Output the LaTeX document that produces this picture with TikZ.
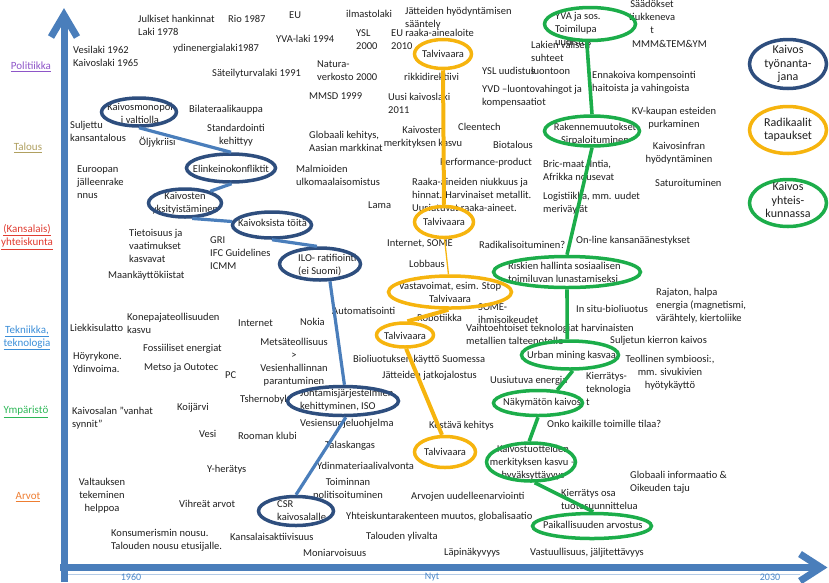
\documentclass[tikz,border=0pt]{standalone}
\usepackage{fontspec}
\setmainfont{Carlito}
\usetikzlibrary{shapes.geometric}

\definecolor{navy}{HTML}{2E4E7E}
\definecolor{linkblue}{HTML}{4A7EBB}
\definecolor{axisblue}{HTML}{4A7EBB}
\definecolor{axislight}{HTML}{B4CBE6}
\definecolor{radorange}{HTML}{F6B40E}
\definecolor{comgreen}{HTML}{1CAD4A}
\definecolor{polc}{HTML}{8E55C8}
\definecolor{talc}{HTML}{B0A060}
\definecolor{kanc}{HTML}{E03C31}
\definecolor{tekc}{HTML}{3B8ED8}
\definecolor{ympc}{HTML}{2DB757}
\definecolor{arvc}{HTML}{EE7D31}
\definecolor{yearc}{HTML}{4A86C8}

\begin{document}
\begin{tikzpicture}[x=1pt,y=-1pt,
  txt/.style={inner sep=0pt, anchor=west, align=left,
    font=\fontsize{10.5}{13}\selectfont, text=black!88},
  ctxt/.style={txt, anchor=center, align=center},
  legtxt/.style={ctxt, font=\fontsize{12}{13.5}\selectfont},
  cat/.style={inner sep=0pt, align=center, font=\fontsize{11}{13}\selectfont},
  yr/.style={inner sep=0pt, font=\fontsize{10}{12}\selectfont, text=yearc},
  ell/.style={ellipse, draw, line width=3.5, inner sep=0pt},
  navyell/.style={ell, draw=navy},
  orell/.style={ell, draw=radorange},
  grell/.style={ell, draw=comgreen},
  navylink/.style={draw=linkblue, line width=3.2},
  orlink/.style={draw=radorange, line width=4},
  orthin/.style={draw=radorange, line width=1.3},
  grlink/.style={draw=comgreen, line width=3.6},
  axisline/.style={draw=axisblue, line width=7},
]
\path[use as bounding box] (0,0) rectangle (829,582);

% ---------- axes ----------
\coordinate (vb) at (64,582);
\coordinate (vt) at (64,16);
\coordinate (vl) at (51,37);
\coordinate (vr) at (77,37);
\coordinate (hb) at (60,567.5);
\coordinate (ht) at (821,567.5);
\coordinate (hu) at (800,554);
\coordinate (hd) at (800,581);
\draw[draw=axislight, line width=1] (68,574) -- (800,574);
\draw[axisline] (vb) -- (vt);
\draw[axisline, line join=miter] (vl) -- (64,15) -- (vr);
\draw[axisline] (hb) -- (ht);
\draw[axisline, line join=miter] (hu) -- (ht) -- (hd);

\node[yr] (y1960) at (131,577) {1960};
\node[yr] (ynyt) at (432,577) {Nyt};
\node[yr] (y2030) at (770,577) {2030};

% ---------- category labels ----------
\node[cat, text=polc] (cPol) at (31,67) {\underline{Politiikka}};
\node[cat, text=talc] (cTal) at (28,148) {\underline{Talous}};
\node[cat, text=kanc] (cKan) at (27,237) {\underline{(Kansalais)}\\\underline{yhteiskunta}};
\node[cat, text=tekc] (cTek) at (27,338) {\underline{Tekniikka,}\\\underline{teknologia}};
\node[cat, text=ympc] (cYmp) at (26,412) {\underline{Ympäristö}};
\node[cat, text=arvc] (cArv) at (28,497) {\underline{Arvot}};

% ---------- free texts ----------
\node[txt] (n1) at (138,25.5) {Julkiset hankinnat\\Laki 1978};
\node[txt] (n2) at (228,19) {Rio 1987};
\node[txt] (n3) at (73,56.5) {Vesilaki 1962\\Kaivoslaki 1965};
\node[txt] (n4) at (173,49) {ydinenergialaki1987};
\node[txt] (n5) at (212,74) {Säteilyturvalaki 1991};
\node[txt] (n6) at (189,110) {Bilateraalikauppa};
\node[txt] (n7) at (70,131.5) {Suljettu\\kansantalous};
\node[txt] (n8) at (139,142) {Öljykriisi};
\node[ctxt] (n9) at (236,135.5) {Standardointi\\kehittyy};
\node[txt] (n10) at (77,182) {Euroopan\\jälleenrake\\nnus};
\node[txt] (n11) at (289,15) {EU};
\node[txt] (n12) at (346,14) {ilmastolaki};
\node[txt] (n13) at (405,18) {Jätteiden hyödyntämisen\\sääntely};
\node[txt] (n14) at (276,39) {YVA-laki 1994};
\node[txt] (n15) at (356,40) {YSL\\2000};
\node[txt] (n16) at (391,39) {EU raaka-ainealoite\\2010};
\node[txt] (n17) at (317,71) {Natura-\\verkosto 2000};
\node[txt] (n18) at (404,77) {rikkidirektiivi};
\node[txt] (n19) at (482,71) {YSL uudistus};
\node[txt] (n20) at (309,96) {MMSD 1999};
\node[txt] (n21) at (388,103) {Uusi kaivoslaki\\2011};
\node[txt] (n22) at (482,96.5) {YVD –luontovahingot ja\\kompensaatiot};
\node[txt] (n23) at (309,141) {Globaali kehitys,\\Aasian markkinat};
\node[ctxt] (n24) at (423,137.5) {Kaivosten\\merkityksen kasvu};
\node[txt] (n25) at (458,127) {Cleentech};
\node[txt] (n26) at (493,145) {Biotalous};
\node[txt] (n27) at (440,163) {Performance-product};
\node[txt] (n28) at (296,175) {Malmioiden\\ulkomaalaisomistus};
\node[txt] (n29) at (412,194.5) {Raaka-aineiden niukkuus ja\\hinnat. Harvinaiset metallit.\\Uusiutuvat raaka-aineet.};
\node[ctxt] (n30) at (652,17) {Säädökset\\tiukkeneva\\t};
\node[txt] (n31) at (632,44) {MMM\&TEM\&YM};
\node[txt] (n32) at (531,58) {Lakien välisen\\suhteet\\luontoon};
\node[txt] (n33) at (592,82) {Ennakoiva kompensointi\\haitoista ja vahingoista};
\node[ctxt] (n34) at (674,118) {KV-kaupan esteiden\\purkaminen};
\node[ctxt] (n35) at (679,153) {Kaivosinfran\\hyödyntäminen};
\node[txt] (n36) at (543,170) {Bric-maat, Intia,\\Afrikka nousevat};
\node[txt] (n37) at (655,183) {Saturoituminen};
\node[txt] (n38) at (543,203.5) {Logistiikka, mm. uudet\\meriväylät};
\node[txt] (n39) at (129,246) {Tietoisuus ja\\vaatimukset\\kasvavat};
\node[txt] (n40) at (210,253) {GRI\\IFC Guidelines\\ICMM};
\node[txt] (n41) at (108,276) {Maankäyttökiistat};
\node[txt] (n42) at (127,323.5) {Konepajateollisuuden\\kasvu};
\node[txt] (n43) at (70,328) {Liekkisulatto};
\node[txt] (n44) at (238,323) {Internet};
\node[txt] (n45) at (143,349) {Fossiiliset energiat};
\node[txt] (n46) at (73,362.5) {Höyrykone.\\Ydinvoima.};
\node[txt] (n47) at (144,368) {Metso ja Outotec};
\node[txt] (n48) at (225,375) {PC};
\node[txt] (n49) at (332,311) {Automatisointi};
\node[txt] (n50) at (300,322) {Nokia};
\node[ctxt] (n51) at (294,362) {Metsäteollisuus\\>\\Vesienhallinnan\\parantuminen};
\node[txt] (n52) at (240,400) {Tshernobyl};
\node[txt] (n53) at (177,408) {Koijärvi};
\node[txt] (n54) at (199,434) {Vesi};
\node[txt] (n55) at (238,436) {Rooman klubi};
\node[txt] (n56) at (300,424) {Vesiensuojeluohjelma};
\node[txt] (n57) at (325,446) {Talaskangas};
\node[txt] (n58) at (353,360) {Bioliuotuksen käyttö Suomessa};
\node[txt] (n59) at (382,376) {Jätteiden jatkojalostus};
\node[txt] (n60) at (368,205) {Lama};
\node[txt] (n61) at (387,244) {Internet, SOME};
\node[txt] (n62) at (409,264) {Lobbaus};
\node[txt] (n63) at (479,245) {Radikalisoituminen?};
\node[txt] (n64) at (417,318) {Robotiikka};
\node[txt] (n65) at (478,314) {SOME-\\ihmisoikeudet};
\node[txt] (n66) at (466,334) {Vaihtoehtoiset teknologiat harvinaisten\\metallien talteenotolle};
\node[txt] (n67) at (490,381) {Uusiutuva energia};
\node[txt] (n68) at (576,241) {On-line kansanäänestykset};
\node[txt] (n69) at (656,306) {Rajaton, halpa\\energia (magnetismi,\\värähtely, kiertoliike};
\node[txt] (n70) at (576,309) {In situ-bioliuotus};
\node[txt] (n71) at (610,341) {Suljetun kierron kaivos};
\node[ctxt] (n72) at (670,373) {Teollinen symbioosi:,\\mm. sivukivien\\hyötykäyttö};
\node[txt] (n73) at (586,389) {Kierrätys-\\teknologia\\t};
\node[txt] (n74) at (547,424) {Onko kaikille toimille tilaa?};
\node[txt] (n75) at (630,482) {Globaali informaatio \&\\Oikeuden taju};
\node[txt] (n76) at (561,499.5) {Kierrätys osa\\tuotesuunnittelua};
\node[txt] (n77) at (530,553) {Vastuullisuus, jäljitettävyys};
\node[txt] (n78) at (429,426) {Kestävä kehitys};
\node[txt] (n79) at (317,466) {Ydinmateriaalivalvonta};
\node[ctxt] (n80) at (348,489) {Toiminnan\\politisoituminen};
\node[txt] (n81) at (411,497) {Arvojen uudelleenarviointi};
\node[txt] (n82) at (346,517) {Yhteiskuntarakenteen muutos, globalisaatio};
\node[txt] (n83) at (230,537) {Kansalaisaktiivisuus};
\node[txt] (n84) at (366,537) {Talouden ylivalta};
\node[txt] (n85) at (303,553) {Moniarvoisuus};
\node[txt] (n86) at (444,553) {Läpinäkyvyys};
\node[txt] (n87) at (72,418.5) {Kaivosalan ”vanhat\\synnit”};
\node[txt] (n88) at (207,470) {Y-herätys};
\node[ctxt] (n89) at (102,496) {Valtauksen\\tekeminen\\helppoa};
\node[txt] (n90) at (179,504) {Vihreät arvot};
\node[txt] (n91) at (111,540) {Konsumerismin nousu.\\Talouden nousu etusijalle.};

% ---------- texts inside the ellipses ----------
\node[ctxt] (k1t) at (140,113) {Kaivosmonopol\\i valtiolla};
\node[ctxt] (k2t) at (231,169) {Elinkeinokonfliktit};
\node[ctxt] (k3t) at (185,203) {Kaivosten\\yksityistäminen};
\node[txt] (k4t) at (238,223) {Kaivoksista töitä};
\node[txt] (k5t) at (298,265) {ILO- ratifiointi\\(ei Suomi)};
\node[txt] (k6t) at (300,400) {Johtamisjärjestelmien\\kehittyminen, ISO};
\node[txt] (k7t) at (277,511) {CSR\\kaivosalalle};

\node[ctxt] (o1t) at (443,54) {Talvivaara};
\node[ctxt] (o2t) at (444,222) {Talvivaara};
\node[ctxt] (o3t) at (450,292.5) {Vastavoimat, esim. Stop\\Talvivaara};
\node[ctxt] (o4t) at (405,336) {Talvivaara};
\node[ctxt] (o5t) at (445,452) {Talvivaara};

\node[txt] (g1t) at (555,29) {YVA ja sos.\\Toimilupa\\uudistus};
\node[ctxt] (g2t) at (595,134) {Rakennemuutokset\\Sirpaloituminen};
\node[txt] (g3t) at (508,272) {Riskien hallinta sosiaalisen\\toimiluvan lunastamiseksi};
\node[txt] (g4t) at (527,356) {Urban mining kasvaa};
\node[txt] (g5t) at (503,403) {Näkymätön kaivos};
\node[ctxt] (g6t) at (533,463) {Kaivostuotteiden\\merkityksen kasvu –\\hyväksyttävyys};
\node[txt] (g7t) at (543,525) {Paikallisuuden arvostus};

% ---------- ellipses ----------
\node[navyell, minimum width=75, minimum height=28] (k1) at (139,112) {};
\node[navyell, minimum width=89, minimum height=28] (k2) at (231,168) {};
\node[navyell, minimum width=73, minimum height=28] (k3) at (185,203) {};
\node[navyell, minimum width=79, minimum height=26] (k4) at (272,225) {};
\node[navyell, minimum width=81, minimum height=32] (k5) at (320,264) {};
\node[navyell, minimum width=111, minimum height=29] (k6) at (343,401) {};
\node[navyell, minimum width=75, minimum height=29] (k7) at (296,511) {};

\node[orell, minimum width=57, minimum height=29] (o1) at (443,54) {};
\node[orell, minimum width=59, minimum height=31] (o2) at (444,222) {};
\node[orell, minimum width=123, minimum height=32] (o3) at (450,292) {};
\node[orell, minimum width=57, minimum height=24] (o4) at (405,335) {};
\node[orell, minimum width=61, minimum height=31] (o5) at (445,452) {};

\node[grell, minimum width=91, minimum height=33] (g1) at (590,24) {};
\node[grell, minimum width=95, minimum height=30] (g2) at (592,131) {};
\node[grell, minimum width=147, minimum height=31] (g3) at (567,272) {};
\node[grell, minimum width=97, minimum height=28] (g4) at (570,355) {};
\node[grell, minimum width=89, minimum height=25] (g5) at (538,403) {};
\node[grell, minimum width=89, minimum height=38] (g6) at (531,462) {};
\node[grell, minimum width=119, minimum height=25] (g7) at (592,526) {};

% ---------- chains ----------
\draw[navylink] (k1.-90) -- (k2.90);
\draw[navylink] (k2.-88) -- (k3.25);
\draw[navylink] (k3.-65) -- (k4.175);
\draw[navylink] (k4.-90) -- (k5.100);
\draw[navylink] (k5.-60) -- (k6.85);
\draw[navylink] (k6.-80) -- (k7.90);

\draw[orlink] (o1.-90) -- (o2.90);
\draw[orthin] (o2.-88) -- (o3.95);
\draw[orlink] (o3.-95) -- (o4.80);
\draw[orlink] (o4.-85) -- (o5.100);

\draw[grlink] (g1.-100) -- (g2.90);
\draw[grlink] (g2.-90) -- (g3.90);
\draw[grlink] (g3.-90) -- (g4.100);
\draw[grlink] (g4.-80) -- (g5.34);
\draw[grlink] (g5.-90) -- (g6.95);
\draw[grlink] (g6.-80) -- (g7.85);

% ---------- legend ----------
\node[navyell, minimum width=77, minimum height=49] (L1) at (788,64) {};
\node[legtxt] (L1t) at (788,64) {Kaivos\\työnanta-\\jana};
\node[orell, minimum width=77, minimum height=47] (L2) at (788,130) {};
\node[legtxt] (L2t) at (788,130) {Radikaalit\\tapaukset};
\node[grell, minimum width=77, minimum height=47] (L3) at (788,203) {};
\node[legtxt] (L3t) at (788,200) {Kaivos\\yhteis-\\kunnassa};
\end{tikzpicture}
\end{document}
